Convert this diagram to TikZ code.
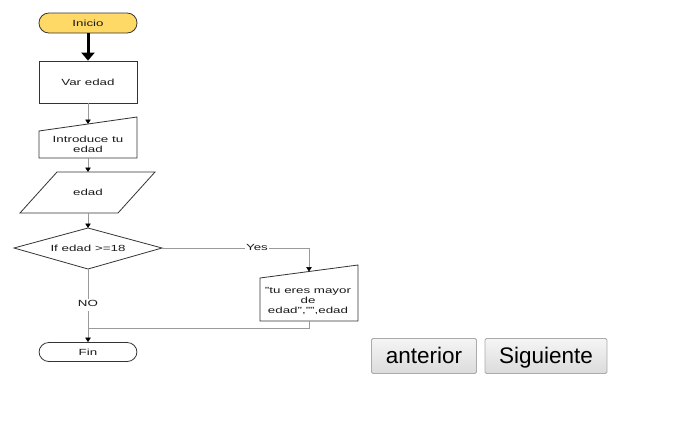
\documentclass[tikz,border=0pt]{standalone}
\usepackage{fontspec}
\usepackage{graphicx}
\setmainfont{Liberation Sans}
\usetikzlibrary{arrows.meta,shapes.misc}
\definecolor{startyellow}{HTML}{FFD966}
\definecolor{shapeline}{HTML}{333333}
\definecolor{connline}{HTML}{9A9A9A}
\definecolor{txt}{HTML}{1A1A1A}
\definecolor{btnborder}{HTML}{ABABAB}
\newcommand{\wtxt}[1]{\scalebox{1.5}[1]{\renewcommand{\arraystretch}{1.05}\begin{tabular}{@{}c@{}}#1\end{tabular}}}
\begin{document}
\begin{tikzpicture}[x=1pt,y=-1pt,
  shp/.style={draw=shapeline,line width=0.8pt},
  lbl/.style={inner sep=0pt,text=txt,font=\fontsize{8.9}{9.3}\selectfont},
  terminal/.style={shp,rounded corners=9.8pt,minimum width=98pt,inner sep=0pt},
  conn/.style={draw=connline,line width=0.7pt},
  arr/.style={conn,-{Triangle[width=5.5pt,length=4.5pt,color=black,fill=black]}},
  btn/.style={draw=btnborder,line width=0.8pt,rounded corners=1.5pt,top color=white!96!black,bottom color=white!86!black,minimum height=35pt,inner sep=0pt,text height=16pt,text depth=2pt,text=black,font=\fontsize{22.5}{26}\selectfont}]
\useasboundingbox (0,0) rectangle (699,426);

% Inicio
\node[terminal,fill=startyellow,minimum height=20pt] (inicio) at (88,23) {};
\node[lbl] (tinicio) at (88,24.5) {\wtxt{Inicio}};
% Var edad
\node[shp,minimum width=98pt,minimum height=42pt,inner sep=0pt] (var) at (88,82) {};
\node[lbl] (tvar) at (88,83.5) {\wtxt{Var edad}};
% Introduce (manual input)
\coordinate (i1) at (39,131); \coordinate (i2) at (137,117);
\coordinate (i3) at (137,158); \coordinate (i4) at (39,158);
\coordinate (itop) at (88,124); \coordinate (ibot) at (88,158);
\draw[shp] (i1) -- (i2) -- (i3) -- (i4) -- cycle;
\node[lbl] (intro) at (88,145.5) {\wtxt{Introduce tu\\edad}};
% edad (parallelogram)
\coordinate (e1) at (57,172); \coordinate (e2) at (155,172);
\coordinate (e3) at (118,213); \coordinate (e4) at (20,213);
\coordinate (etop) at (88,172); \coordinate (ebot) at (88,213);
\draw[shp] (e1) -- (e2) -- (e3) -- (e4) -- cycle;
\node[lbl] (edad) at (88,193.5) {\wtxt{edad}};
% diamond
\coordinate (dT) at (88,228); \coordinate (dR) at (162,248);
\coordinate (dB) at (88,269); \coordinate (dL) at (14,248);
\draw[shp] (dT) -- (dR) -- (dB) -- (dL) -- cycle;
\node[lbl] (cond) at (88,249.5) {\wtxt{If edad >=18}};
% output trapezoid
\coordinate (o1) at (260,278); \coordinate (o2) at (358,265);
\coordinate (o3) at (358,321); \coordinate (o4) at (260,321);
\coordinate (otop) at (309,271.5); \coordinate (obot) at (309,321);
\draw[shp] (o1) -- (o2) -- (o3) -- (o4) -- cycle;
\node[lbl] (out) at (308,301.5) {\wtxt{"tu eres mayor\\de\\edad","",edad}};
% Fin
\node[terminal,minimum height=19pt] (fin) at (88,352) {};
\node[lbl] (tfin) at (88,353.5) {\wtxt{Fin}};

% connectors
\draw[line width=3pt,-{Triangle[width=13pt,length=8pt]}] (inicio.south) -- (var.north);
\draw[arr] (var.south) -- (itop);
\draw[arr] (ibot) -- (etop);
\draw[arr] (ebot) -- (dT);
\coordinate (yc) at (309,248);
\draw[arr] (dR) -- (yc) -- (otop);
\node[lbl,fill=white,inner xsep=1pt,inner ysep=1pt] (yes) at (257,249) {\wtxt{Yes}};
\coordinate (m1) at (309,328); \coordinate (m2) at (88,328);
\draw[conn] (obot) -- (m1) -- (m2);
\draw[arr] (dB) -- (fin.north);
\node[lbl,fill=white,inner ysep=1.5pt] (no) at (88,305) {\wtxt{NO}};

% buttons
\node[btn,minimum width=105pt] (ant) at (424,356) {anterior};
\node[btn,minimum width=122pt] (sig) at (546,356) {Siguiente};
\end{tikzpicture}
\end{document}
